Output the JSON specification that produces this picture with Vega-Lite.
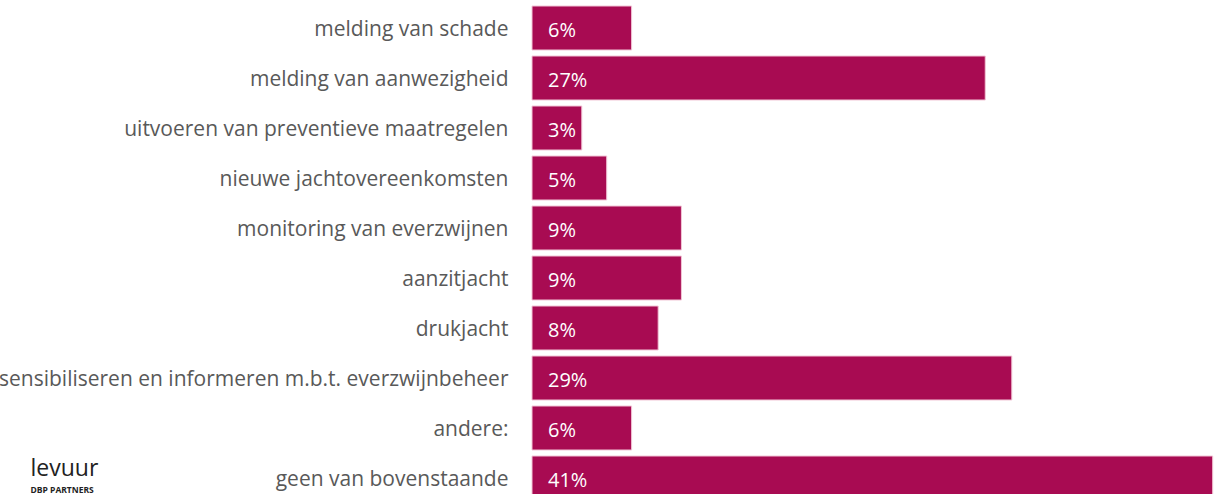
{
  "$schema": "https://vega.github.io/schema/vega-lite/v6.json",
  "autosize": {"type": "none"},
  "padding": {"left": 532, "top": 3, "right": 0, "bottom": 0},
  "width": 689,
  "height": 500,
  "background": "white",
  "config": {"view": {"stroke": null}, "font": "Open Sans"},
  "title": {
    "text": "levuur",
    "subtitle": "DBP PARTNERS",
    "orient": "bottom",
    "anchor": "start",
    "frame": "bounds",
    "dx": 32,
    "dy": -49,
    "font": "Open Sans",
    "fontSize": 23,
    "fontWeight": "normal",
    "color": "#222222",
    "subtitleFont": "Open Sans",
    "subtitleFontSize": 8.5,
    "subtitleFontWeight": "bold",
    "subtitleColor": "#222222",
    "subtitlePadding": 5
  },
  "data": {
    "values": [
      {"categorie": "melding van schade", "pct": 6.0, "label": "6%"},
      {"categorie": "melding van aanwezigheid", "pct": 27.3, "label": "27%"},
      {"categorie": "uitvoeren van preventieve maatregelen", "pct": 3.0, "label": "3%"},
      {"categorie": "nieuwe jachtovereenkomsten", "pct": 4.5, "label": "5%"},
      {"categorie": "monitoring van everzwijnen", "pct": 9.0, "label": "9%"},
      {"categorie": "aanzitjacht", "pct": 9.0, "label": "9%"},
      {"categorie": "drukjacht", "pct": 7.6, "label": "8%"},
      {"categorie": "sensibiliseren en informeren m.b.t. everzwijnbeheer", "pct": 28.9, "label": "29%"},
      {"categorie": "andere:", "pct": 6.0, "label": "6%"},
      {"categorie": "geen van bovenstaande", "pct": 41.0, "label": "41%"}
    ]
  },
  "encoding": {
    "y": {
      "field": "categorie",
      "type": "nominal",
      "sort": null,
      "scale": {"paddingInner": 0.12, "paddingOuter": 0.06},
      "axis": {
        "title": null,
        "domain": false,
        "ticks": false,
        "labelFontSize": 21,
        "labelColor": "#595959",
        "labelPadding": 24,
        "labelOffset": 2,
        "labelLimit": 600,
        "labelFont": "Open Sans"
      }
    }
  },
  "layer": [
    {
      "mark": {"type": "bar", "color": "#A80B52", "stroke": "#F2C6D6", "strokeWidth": 1},
      "encoding": {
        "x": {
          "field": "pct",
          "type": "quantitative",
          "scale": {"domain": [0, 41.5], "nice": false},
          "axis": null
        }
      }
    },
    {
      "mark": {"type": "text", "align": "left", "baseline": "middle", "dx": 16, "dy": 3, "fontSize": 20, "color": "white", "font": "Open Sans"},
      "encoding": {
        "x": {"datum": 0, "type": "quantitative"},
        "text": {"field": "label"}
      }
    }
  ]
}
